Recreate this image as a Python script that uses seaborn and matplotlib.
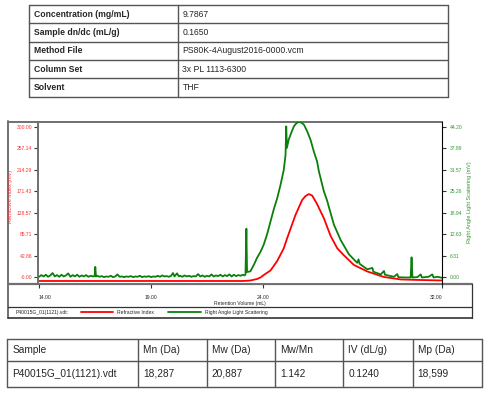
import matplotlib
matplotlib.use("Agg")
import matplotlib.pyplot as plt
import seaborn as sns
import pandas as pd

# -------------------------
# table contents
# -------------------------
info_labels = ["Concentration (mg/mL)", "Sample dn/dc (mL/g)", "Method File", "Column Set", "Solvent"]
info_values = ["9.7867", "0.1650", "PS80K-4August2016-0000.vcm", "3x PL 1113-6300", "THF"]

result_headers = ["Sample", "Mn (Da)", "Mw (Da)", "Mw/Mn", "IV (dL/g)", "Mp (Da)"]
result_values = ["P40015G_01(1121).vdt", "18,287", "20,887", "1.142", "0.1240", "18,599"]

sample_file = "P40015G_01(1121).vdt:"

# -------------------------
# chromatogram traces
# -------------------------
ri_volume = [14.00, 20.00, 23.13, 23.44, 23.74, 23.89, 24.04, 24.34, 24.64, 24.93,
             25.08, 25.45, 25.75, 25.90, 26.05, 26.20, 26.42, 26.72, 27.02, 27.32,
             27.62, 28.06, 28.66, 29.40, 30.17, 31.00, 32.00]
ri_signal = [-7, -7, -7, -6, -3, 0, 5, 14, 33, 58,
             78, 124, 154, 162, 166, 163, 146, 118, 83, 58,
             44, 25, 12, 1, -4, -5, -6]

rals_volume = [14.0, 14.1, 14.2, 14.3, 14.4, 14.5, 14.6, 14.7, 14.8, 14.9,
               15.0, 15.1, 15.2, 15.3, 15.4, 15.5, 15.6, 15.7, 15.8, 15.9,
               16.0, 16.1, 16.2, 16.3, 16.4, 16.48, 16.51, 16.54, 16.6, 16.7,
               16.8, 16.9, 17.0, 17.1, 17.2, 17.3, 17.4, 17.5, 17.6, 17.7,
               17.8, 17.9, 18.0, 18.1, 18.2, 18.3, 18.4, 18.5, 18.6, 18.7,
               18.8, 18.9, 19.0, 19.1, 19.2, 19.3, 19.4, 19.5, 19.6, 19.7,
               19.8, 19.9, 19.98, 20.05, 20.16, 20.25, 20.3, 20.4, 20.5, 20.6,
               20.7, 20.8, 20.9, 21.0, 21.1, 21.2, 21.3, 21.4, 21.5, 21.6,
               21.7, 21.8, 21.9, 22.0, 22.1, 22.2, 22.3, 22.4, 22.5, 22.6,
               22.7, 22.8, 22.9, 23.0, 23.1, 23.18, 23.22, 23.26, 23.29, 23.44,
               23.60, 23.74, 23.89, 24.04, 24.20, 24.34, 24.48, 24.64, 24.78, 24.93,
               25.01, 25.04, 25.07, 25.15, 25.27, 25.38, 25.49, 25.60, 25.72, 25.83,
               25.98, 26.13, 26.27, 26.42, 26.50, 26.72, 26.87, 26.94, 27.17, 27.47,
               27.84, 28.21, 28.27, 28.32, 28.66, 28.89, 28.93, 29.26, 29.41, 29.45,
               29.85, 30.00, 30.05, 30.30, 30.60, 30.64, 30.68, 30.90, 31.05, 31.10,
               31.40, 31.57, 31.62, 31.80, 32.00]
rals_signal = [0.2, 0.7, 0.3, 0.8, 0.2, 0.6, 1.3, 0.3, 0.7, 0.2,
               0.8, 0.3, 0.6, 1.2, 0.2, 0.7, 0.3, 0.8, 0.2, 0.6,
               0.3, 0.7, 0.2, 0.5, 0.3, 0.4, 3.1, 0.3, 0.5, 0.2,
               0.4, 0.1, 0.3, 0.2, 0.5, 0.1, 0.3, 0.9, 0.2, 0.3,
               0.1, 0.3, 0.2, 0.4, 0.1, 0.3, 0.2, 0.5, 0.1, 0.3,
               0.2, 0.4, 0.1, 0.3, 0.2, 0.5, 0.2, 0.6, 0.3, 0.4,
               0.2, 0.5, 1.3, 0.3, 1.2, 0.3, 0.5, 0.2, 0.6, 0.3,
               0.5, 0.2, 0.4, 0.3, 1.0, 0.3, 0.6, 0.2, 0.5, 0.3,
               0.9, 0.3, 0.6, 0.4, 0.8, 0.3, 0.7, 0.4, 0.9, 0.3,
               0.8, 0.4, 0.7, 0.5, 0.8, 0.6, 0.9, 14.3, 1.6, 1.8,
               3.8, 5.8, 7.5, 9.7, 13.0, 16.5, 19.9, 23.3, 27.0, 31.5,
               36.0, 44.3, 38.0, 40.4, 42.5, 44.3, 45.2, 45.6, 45.4, 44.8,
               42.8, 40.3, 37.0, 34.0, 31.1, 25.3, 22.5, 20.8, 15.5, 11.0,
               6.8, 4.3, 5.3, 4.0, 2.4, 2.8, 1.7, 0.9, 1.9, 0.8,
               0.2, 1.0, 0.1, 0.0, 0.0, 5.9, 0.0, 0.1, 0.9, 0.0,
               0.2, 0.9, 0.0, 0.2, -0.1]

x_ticks = [14, 19, 24, 32]
x_tick_labels = ["14.00", "19.00", "24.00", "32.00"]
ri_ticks = [0, 42.86, 85.71, 128.57, 171.43, 214.29, 257.14, 300.00]
ri_tick_labels = ["-0.00", "42.86", "85.71", "128.57", "171.43", "214.29", "257.14", "300.00"]
rals_ticks = [0, 6.31, 12.63, 18.94, 25.26, 31.57, 37.89, 44.20]
rals_tick_labels = ["0.00", "6.31", "12.63", "18.94", "25.26", "31.57", "37.89", "44.20"]

ri_df = pd.DataFrame({"volume": ri_volume, "signal": ri_signal})
rals_df = pd.DataFrame({"volume": rals_volume, "signal": rals_signal})

# -------------------------
# figure
# -------------------------
sns.set_theme(style="white")
plt.rcParams['font.family'] = ['Liberation Sans', 'DejaVu Sans']

W, H = 489, 393
fig = plt.figure(figsize=(W / 100, H / 100), dpi=100)

# pixel overlay for tables / frame
ov = fig.add_axes([0, 0, 1, 1])
ov.set_xlim(0, W)
ov.set_ylim(H, 0)
ov.axis("off")

line_col = "#555555"

# top info table
t_left, t_mid, t_right = 29, 177.7, 447.5
t_rows = [5 + i * 18.35 for i in range(6)]
for y in t_rows:
    ov.plot([t_left, t_right], [y, y], color=line_col, lw=1.0)
for x in (t_left, t_mid, t_right):
    ov.plot([x, x], [t_rows[0], t_rows[-1]], color=line_col, lw=1.0)
for i, (lab, val) in enumerate(zip(info_labels, info_values)):
    yc = (t_rows[i] + t_rows[i + 1]) / 2
    ov.text(34, yc, lab, fontsize=6.2, fontweight="bold", va="center", ha="left")
    ov.text(182.5, yc, val, fontsize=6.2, va="center", ha="left")

# chart frame
frame_col = "#707070"
ov.plot([8, 8], [121, 317.5], color=frame_col, lw=1.4)
ov.plot([8, 442], [121.7, 121.7], color=frame_col, lw=1.4)
ov.plot([8, 471.5], [283.5, 283.5], color=frame_col, lw=1.6)
ov.plot([8, 471.5], [307.3, 307.3], color="#333333", lw=0.9)
ov.plot([8, 471.5], [317.5, 317.5], color="#333333", lw=1.2)
ov.plot([471.5, 471.5], [283.5, 317.5], color="#333333", lw=0.9)
ov.text(16, 312.6, sample_file, fontsize=3.6, va="center", ha="left")

# bottom results table
b_cols = [7.3, 138.3, 206.7, 275, 343.3, 412.7, 482.3]
b_rows = [339.3, 360.7, 386.7]
for y in b_rows:
    ov.plot([b_cols[0], b_cols[-1]], [y, y], color=line_col, lw=1.0)
for x in b_cols:
    ov.plot([x, x], [b_rows[0], b_rows[-1]], color=line_col, lw=1.0)
for j, (hd, val) in enumerate(zip(result_headers, result_values)):
    ov.text(b_cols[j] + 5, (b_rows[0] + b_rows[1]) / 2, hd, fontsize=7.3, va="center", ha="left")
    ov.text(b_cols[j] + 5, (b_rows[1] + b_rows[2]) / 2, val, fontsize=7.3, va="center", ha="left")

# chromatogram axes
ax = fig.add_axes([38 / W, 1 - 283.5 / H, 404 / W, (283.5 - 121.7) / H])
ax2 = ax.twinx()

sns.lineplot(data=ri_df, x="volume", y="signal", ax=ax, color="#ff0000", lw=1.3,
             estimator=None, sort=False, legend=False)
sns.lineplot(data=rals_df, x="volume", y="signal", ax=ax2, color="#0a800a", lw=1.3,
             estimator=None, sort=False, legend=False)

ax.set_xlim(13.95, 32.0)
ax.set_ylim(-12, 310)
ax2.set_ylim(-12 * 44.2 / 300, 310 * 44.2 / 300)

ax.set_xticks(x_ticks)
ax.set_xticklabels(x_tick_labels)
xt = ax.get_xticklabels()
xt[0].set_ha("left")
xt[-1].set_ha("right")
ax.set_yticks(ri_ticks)
ax.set_yticklabels(ri_tick_labels)
ax2.set_yticks(rals_ticks)
ax2.set_yticklabels(rals_tick_labels)

red_txt = "#ff3030"
green_txt = "#339933"
ax.tick_params(axis="x", bottom=True, length=3, width=0.8, color="#333333",
               labelsize=3.6, pad=5)
ax.tick_params(axis="y", left=True, length=3, width=0.8, color="#333333",
               labelsize=3.6, labelcolor=red_txt, pad=1.2)
ax2.tick_params(axis="y", right=True, left=False, length=3, width=0.8, color="#333333",
                labelsize=3.6, labelcolor=green_txt, pad=2.5)

ax.set_xlabel("Retention Volume (mL)", fontsize=3.6)
ax.xaxis.set_label_coords(0.5, -0.107)
ax.set_ylabel("Refractive Index (mV)", fontsize=4, color=red_txt)
ax.yaxis.set_label_coords(-0.063, 0.54)
ax2.set_ylabel("Right Angle Light Scattering (mV)", fontsize=4, color=green_txt, rotation=90)
ax2.yaxis.set_label_coords(1.0614, 0.5)

for s in ("left", "bottom", "top"):
    ax.spines[s].set_color(frame_col)
    ax.spines[s].set_linewidth(1.4)
ax.spines["right"].set_visible(False)
for s in ("left", "bottom", "top"):
    ax2.spines[s].set_visible(False)
ax2.spines["right"].set_color("black")
ax2.spines["right"].set_linewidth(0.8)
ax.grid(False)
ax2.grid(False)

fig.legend([ax.lines[0], ax2.lines[0]], ["Refractive Index", "Right Angle Light Scattering"],
           loc="center left", bbox_to_anchor=(81 / W, 1 - 312.6 / H), ncol=2, frameon=False,
           fontsize=3.6, handlelength=6.5, handletextpad=0.8, columnspacing=2.8,
           borderpad=0, borderaxespad=0)

fig.savefig("out.png", dpi=100)
